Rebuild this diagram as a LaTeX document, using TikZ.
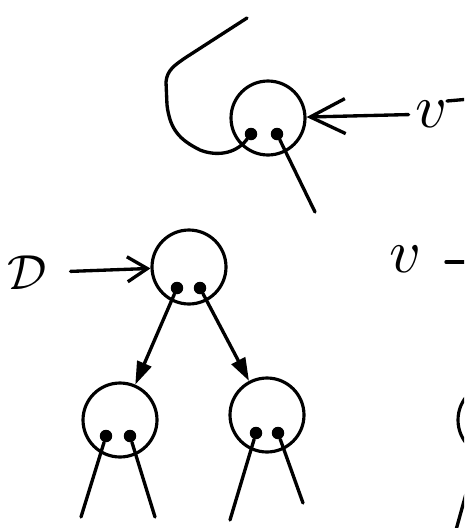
\documentclass[tikz,border=0pt]{standalone}
\usetikzlibrary{arrows.meta}

\tikzset{
  cell/.style={circle, draw, line width=1.8pt, minimum size=1.48cm, inner sep=0pt},
  ptr/.style={circle, fill, minimum size=0.25cm, inner sep=0pt},
  stroke/.style={line width=1.9pt, line cap=round},
  tag/.style={inner sep=1pt},
}

\begin{document}
\begin{tikzpicture}[x=0.02cm, y=-0.02cm, line join=round]
  \useasboundingbox (0,0) rectangle (464,528);
  \clip (0,0) rectangle (464,528);

  % Nodo de arriba
  \node[cell] (top) at (268,118) {};
  \node[ptr] (topl) at (251,134) {};
  \node[ptr] (topr) at (277,134) {};
  \node[tag, scale=3.5] (vtop) at (432,114) {$v$};
  \coordinate (toptail) at (315,212);
  \coordinate (loopend) at (247,18);
  \coordinate (vbar) at (447,101);
  \coordinate (vbarend) at (470,99);

  % Bucle
  \draw[stroke] (topl) .. controls (235,155) and (215,156) .. (200,150)
    .. controls (180,140) and (170,130) .. (167,105) -- (166,82)
    .. controls (167,70) and (175,65) .. (185,58) -- (loopend);
  \draw[stroke] (topr) -- (toptail);
  \draw[stroke, -{Straight Barb[length=7mm,width=7mm]}] (vtop) -- (top);
  \draw[stroke] (vbar) -- (vbarend);

  % Arbol
  \node[cell] (root) at (189,267) {};
  \node[ptr] (rootl) at (177,288) {};
  \node[ptr] (rootr) at (200,288) {};
  \node[tag, scale=2.8] (dlab) at (27,273) {$\mathcal{D}$};
  \draw[stroke, shorten <=0.36cm, -{Straight Barb[length=4mm,width=5mm]}] (dlab) -- (root);

  \node[cell] (lc) at (120,420) {};
  \node[ptr] (lcl) at (106,436) {};
  \node[ptr] (lcr) at (130,436) {};
  \node[cell] (rc) at (267,415) {};
  \node[ptr] (rcl) at (256,433) {};
  \node[ptr] (rcr) at (278,433) {};

  \draw[stroke, -{Triangle[length=4.6mm,width=3mm]}] (rootl) -- (lc);
  \draw[stroke, -{Triangle[length=4.6mm,width=3mm]}] (rootr) -- (rc);

  % Hojas
  \coordinate (lcla) at (81,517);
  \coordinate (lcra) at (155,517);
  \coordinate (rcla) at (230,520);
  \coordinate (rcra) at (303,503);
  \draw[stroke] (lcl) -- (lcla);
  \draw[stroke] (lcr) -- (lcra);
  \draw[stroke] (rcl) -- (rcla);
  \draw[stroke] (rcr) -- (rcra);

  % Lado derecho
  \node[tag, scale=3.5] (vmid) at (406,259) {$v$};
  \coordinate (stub) at (446,262);
  \coordinate (stubend) at (480,262);
  \draw[stroke] (stub) -- (stubend);
  \node[cell] (next) at (495,420) {};
  \node[ptr] (nextl) at (482,436) {};
  \coordinate (nexttail) at (456,530);
  \draw[stroke] (nextl) -- (nexttail);
\end{tikzpicture}
\end{document}
